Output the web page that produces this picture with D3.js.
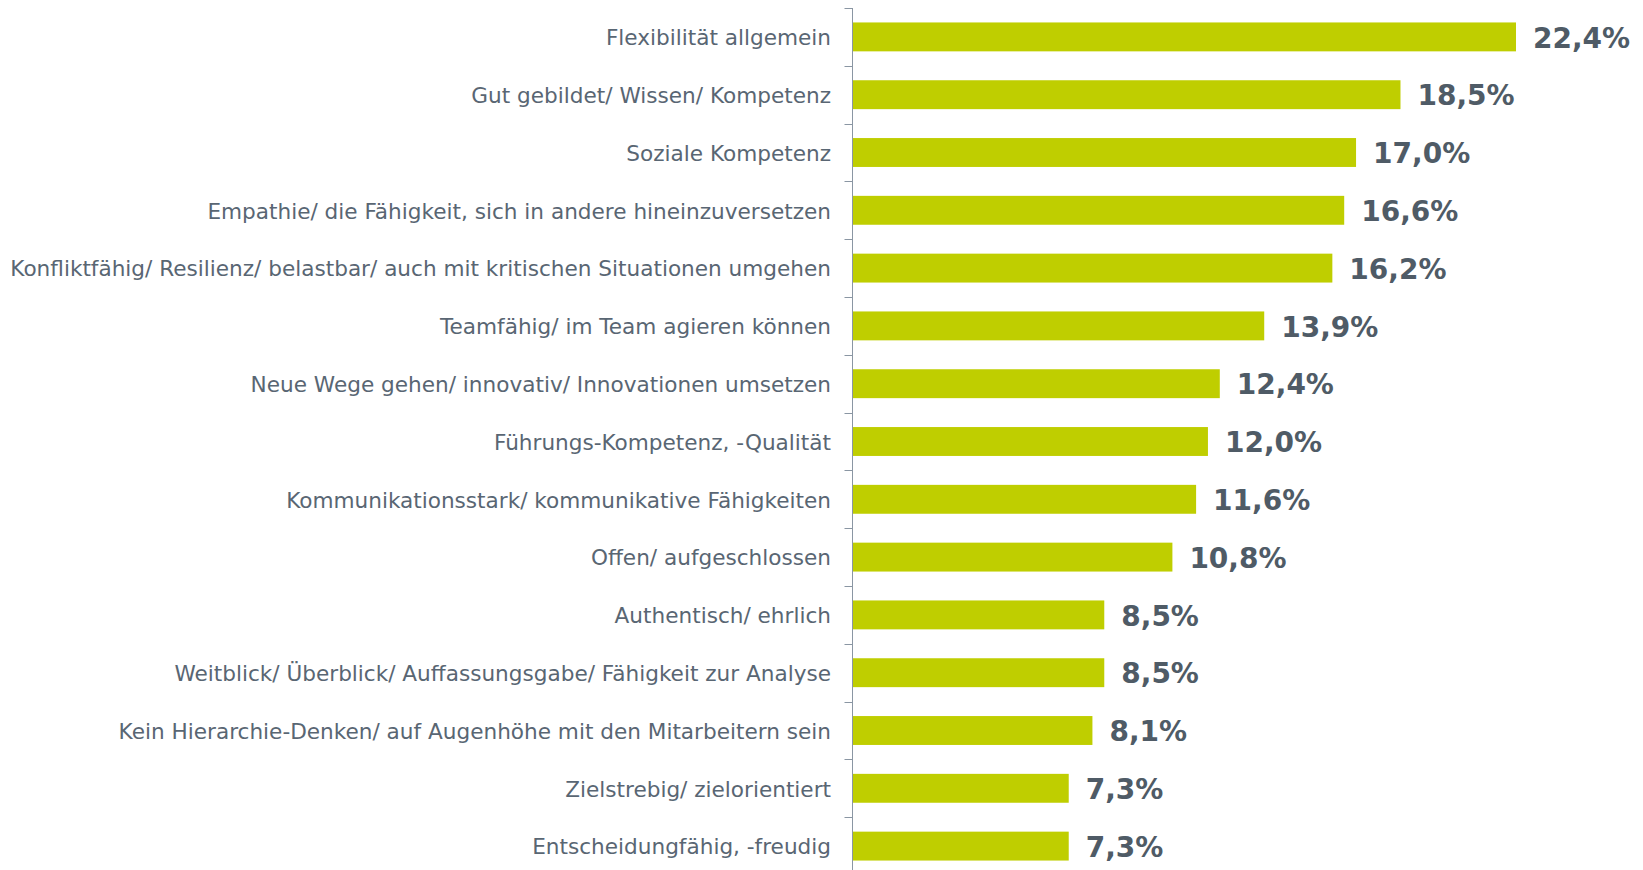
<!DOCTYPE html>
<html>
<head>
<meta charset="utf-8">
<script src="https://cdn.jsdelivr.net/npm/d3@7"></script>
<style>
  html, body { margin: 0; padding: 0; background: #fff; }
  svg { display: block; }
</style>
</head>
<body>
<svg id="chart" width="1643" height="870"></svg>
<script>
// Eigenschaften und Anteil der Nennungen (in %)
const categories = [
  "Flexibilität allgemein",
  "Gut gebildet/ Wissen/ Kompetenz",
  "Soziale Kompetenz",
  "Empathie/ die Fähigkeit, sich in andere hineinzuversetzen",
  "Konfliktfähig/ Resilienz/ belastbar/ auch mit kritischen Situationen umgehen",
  "Teamfähig/ im Team agieren können",
  "Neue Wege gehen/ innovativ/ Innovationen umsetzen",
  "Führungs-Kompetenz, -Qualität",
  "Kommunikationsstark/ kommunikative Fähigkeiten",
  "Offen/ aufgeschlossen",
  "Authentisch/ ehrlich",
  "Weitblick/ Überblick/ Auffassungsgabe/ Fähigkeit zur Analyse",
  "Kein Hierarchie-Denken/ auf Augenhöhe mit den Mitarbeitern sein",
  "Zielstrebig/ zielorientiert",
  "Entscheidungfähig, -freudig"
];
const values = [22.4, 18.5, 17.0, 16.6, 16.2, 13.9, 12.4, 12.0, 11.6, 10.8, 8.5, 8.5, 8.1, 7.3, 7.3];

const svg = d3.select("#chart");
const axisX = 852.5;

const x = d3.scaleLinear().domain([0, 22.4]).range([axisX, 1516]);
const y = d3.scaleBand().domain(categories).range([8, 875]).paddingInner(0.5).paddingOuter(0.25);

const fmt = v => d3.format(".1f")(v).replace(".", ",") + "%";

// bars
svg.append("g").selectAll("rect")
  .data(values)
  .join("rect")
  .attr("x", axisX)
  .attr("y", (d, i) => y(categories[i]))
  .attr("width", d => x(d) - axisX)
  .attr("height", y.bandwidth())
  .attr("fill", "#bfce00");

// category axis with ticks between bands
const boundaries = d3.range(categories.length).map(i => y(categories[i]) - y.bandwidth() * 0.5);
const axisG = svg.append("g");
axisG.append("line")
  .attr("x1", axisX).attr("x2", axisX)
  .attr("y1", 8).attr("y2", 870)
  .attr("stroke", "#8a96a3").attr("stroke-width", 1);
axisG.selectAll(".tick")
  .data(boundaries)
  .join("line")
  .attr("x1", axisX - 8).attr("x2", axisX)
  .attr("y1", d => Math.round(d) + 0.5).attr("y2", d => Math.round(d) + 0.5)
  .attr("stroke", "#8a96a3").attr("stroke-width", 1);

// category labels
svg.append("g").selectAll("text")
  .data(categories)
  .join("text")
  .attr("x", 831)
  .attr("y", d => y(d) + y.bandwidth() / 2)
  .attr("dy", "0.38em")
  .attr("text-anchor", "end")
  .attr("font-family", "DejaVu Sans, Verdana, sans-serif")
  .attr("font-size", 21.6)
  .attr("fill", "#596673")
  .text(d => d);

// value labels
svg.append("g").selectAll("text")
  .data(values)
  .join("text")
  .attr("x", d => x(d) + 17)
  .attr("y", (d, i) => y(categories[i]) + y.bandwidth() / 2)
  .attr("dy", "0.38em")
  .attr("font-family", "DejaVu Sans, Verdana, sans-serif")
  .attr("font-weight", "bold")
  .attr("font-size", 28)
  .attr("fill", "#4f5b66")
  .text(fmt);
</script>
</body>
</html>
